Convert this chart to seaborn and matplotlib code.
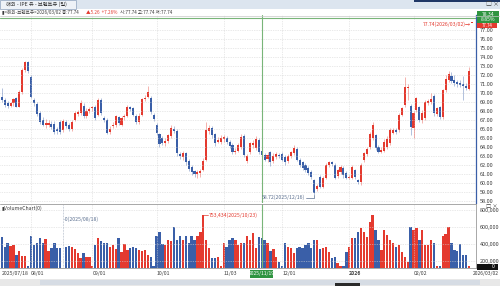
import matplotlib
matplotlib.use("Agg")
import matplotlib.pyplot as plt
from matplotlib.patches import Rectangle
import numpy as np
import pandas as pd
import seaborn as sns

#%% Data (daily Brent, 2025/07/18 - 2026/03/02)
dates = pd.bdate_range("2025-07-18", "2026-03-02")

opens = [69.6, 69.2, 68.9, 68.6, 68.9, 69.4, 68.5, 70.1, 72.6, 73.5,
         71.8, 69.2, 68.8, 67.8, 67.0, 66.4, 66.5, 66.6, 66.6, 66.0,
         66.8, 65.9, 66.8, 66.5, 66.0, 67.0, 67.7, 67.8, 68.6, 67.4,
         68.0, 68.3, 68.5, 67.6, 69.2, 67.2, 67.0, 65.7, 66.3, 66.4,
         67.3, 66.5, 67.3, 67.5, 68.4, 68.3, 67.5, 66.8, 67.6, 69.3,
         69.6, 69.5, 67.6, 66.5, 65.4, 65.0, 64.4, 64.7, 65.2, 66.0,
         65.8, 63.2, 62.9, 63.3, 62.5, 61.8, 61.3, 61.0, 61.1, 61.5,
         62.6, 65.8, 66.1, 65.4, 64.6, 64.6, 64.9, 65.0, 64.6, 64.2,
         63.4, 63.6, 64.0, 65.2, 62.4, 63.4, 64.2, 63.9, 64.8, 63.6,
         63.1, 62.7, 63.4, 62.4, 62.9, 63.1, 63.2, 62.9, 62.4, 63.0,
         63.3, 63.8, 62.6, 62.3, 62.0, 61.7, 61.2, 60.3, 59.3, 60.7,
         59.6, 60.6, 62.0, 62.3, 62.0, 60.8, 61.2, 61.7, 61.1, 60.6,
         60.6, 61.4, 60.3, 60.1, 62.6, 63.2, 64.0, 65.0, 65.3, 64.0,
         63.5, 63.6, 64.0, 64.4, 65.6, 65.9, 65.9, 67.6, 68.7, 70.6,
         68.6, 66.1, 68.1, 68.4, 67.0, 67.2, 68.9, 69.0, 69.7, 67.7,
         68.4, 67.3, 70.3, 71.4, 71.9, 71.4, 71.2, 71.1, 71.0, 70.8,
         70.5, 77.74]

highs = [70.6, 69.4, 69.1, 69.0, 69.5, 69.6, 70.3, 72.8, 73.6, 73.6,
         72.0, 69.5, 69.0, 68.0, 67.3, 67.1, 67.0, 66.9, 66.9, 66.2,
         67.0, 67.1, 67.0, 66.7, 67.0, 68.0, 68.1, 69.2, 68.9, 68.3,
         68.4, 68.6, 68.7, 69.4, 69.4, 67.4, 67.2, 66.3, 66.8, 67.6,
         67.5, 67.5, 67.7, 68.7, 68.6, 68.5, 67.7, 67.8, 69.5, 69.8,
         70.8, 69.7, 67.8, 66.7, 65.6, 65.2, 65.0, 65.5, 66.4, 66.3,
         66.0, 63.5, 63.6, 63.5, 62.7, 62.0, 61.5, 61.5, 61.6, 62.8,
         66.8, 66.4, 66.3, 65.6, 65.1, 65.3, 65.3, 65.2, 64.8, 64.4,
         63.9, 64.4, 65.4, 65.4, 63.2, 64.6, 64.8, 65.2, 65.0, 63.8,
         63.3, 63.4, 63.6, 63.3, 63.5, 63.3, 63.4, 63.1, 63.2, 63.6,
         64.2, 64.0, 62.8, 62.5, 62.2, 61.9, 61.4, 60.5, 59.9, 60.9,
         60.8, 62.2, 62.5, 62.5, 62.2, 61.6, 62.0, 61.9, 61.3, 60.9,
         62.0, 61.6, 60.5, 62.2, 63.5, 64.0, 65.7, 66.8, 65.5, 64.2,
         64.0, 64.9, 65.2, 66.1, 66.1, 66.1, 67.8, 68.5, 71.8, 71.0,
         68.8, 68.0, 69.6, 68.6, 68.1, 69.2, 69.3, 70.0, 69.9, 68.5,
         68.6, 70.5, 72.0, 72.4, 72.3, 72.0, 71.5, 71.4, 71.9, 71.1,
         72.9, 77.74]

lows = [69.0, 68.4, 68.3, 68.4, 68.6, 68.4, 68.4, 69.9, 72.3, 72.2,
        69.4, 68.6, 67.5, 66.6, 66.3, 66.1, 66.2, 66.0, 65.4, 65.5,
        65.5, 65.7, 66.1, 65.8, 65.8, 66.9, 67.5, 67.6, 67.2, 67.2,
        67.8, 68.0, 67.0, 67.4, 67.6, 66.8, 65.4, 65.5, 66.1, 66.2,
        66.4, 66.3, 67.0, 67.3, 68.0, 67.4, 66.6, 66.6, 67.4, 69.1,
        69.4, 67.7, 66.9, 65.3, 64.0, 64.2, 64.1, 64.5, 65.0, 65.6,
        63.0, 62.7, 62.6, 62.0, 61.3, 60.9, 60.7, 60.6, 60.7, 61.3,
        62.4, 65.5, 65.0, 64.1, 64.4, 64.3, 64.6, 64.3, 63.9, 63.2,
        63.2, 63.4, 63.8, 62.9, 62.2, 63.2, 63.9, 63.7, 63.2, 62.9,
        62.4, 62.3, 61.9, 62.2, 62.7, 62.8, 62.4, 62.0, 62.2, 62.8,
        63.1, 62.4, 61.8, 61.5, 61.2, 60.9, 60.5, 58.72, 59.1, 59.4,
        59.4, 60.4, 61.8, 61.9, 60.4, 60.6, 61.0, 60.6, 60.4, 60.5,
        60.4, 60.5, 59.9, 59.8, 62.3, 63.0, 63.8, 64.8, 63.7, 63.3,
        63.3, 63.4, 63.8, 64.2, 65.4, 65.4, 65.7, 67.4, 68.5, 69.2,
        65.3, 65.0, 67.9, 66.8, 66.7, 67.0, 68.7, 68.8, 67.5, 67.4,
        67.1, 67.1, 70.1, 71.2, 71.1, 70.8, 70.7, 70.7, 69.2, 70.3,
        70.3, 77.74]

closes = [69.2, 68.7, 68.6, 68.9, 69.3, 68.5, 70.1, 72.6, 73.4, 72.4,
          69.6, 68.9, 67.7, 66.8, 66.5, 66.7, 66.6, 66.2, 65.7, 65.8,
          65.7, 66.9, 66.3, 66.0, 66.8, 67.8, 67.9, 68.9, 67.4, 68.0,
          68.2, 68.4, 67.2, 69.2, 67.8, 67.0, 65.6, 66.0, 66.5, 67.4,
          66.7, 67.2, 67.5, 68.5, 68.2, 67.6, 66.8, 67.5, 69.3, 69.5,
          70.1, 67.9, 67.1, 65.6, 64.3, 64.4, 64.7, 65.3, 66.1, 65.8,
          63.3, 63.0, 63.3, 62.3, 61.6, 61.2, 61.0, 61.2, 61.3, 62.5,
          65.9, 66.1, 65.3, 64.4, 64.8, 65.0, 65.1, 64.6, 64.1, 63.4,
          63.6, 64.2, 65.1, 63.1, 63.0, 64.4, 64.5, 64.9, 63.4, 63.1,
          62.6, 63.1, 62.3, 63.0, 63.2, 63.0, 62.6, 62.3, 63.0, 63.4,
          63.9, 62.6, 62.0, 61.7, 61.4, 61.1, 60.7, 58.9, 59.7, 59.6,
          60.6, 62.0, 62.3, 62.1, 60.6, 61.4, 61.8, 60.9, 60.6, 60.7,
          61.8, 60.7, 60.1, 62.0, 63.3, 63.8, 65.5, 66.4, 63.9, 63.5,
          63.7, 64.6, 64.9, 65.9, 65.9, 65.7, 67.6, 68.3, 70.7, 70.7,
          66.2, 67.8, 69.4, 67.0, 67.8, 69.0, 69.1, 69.3, 67.8, 68.3,
          67.3, 70.3, 71.6, 72.1, 71.3, 71.1, 71.0, 70.9, 70.8, 70.6,
          72.48, 77.74]

# volume, thousands of contracts
volumes_k = [486, 368, 415, 376, 388, 270, 318, 259, 259, 140,
             494, 388, 415, 467, 408, 455, 318, 349, 408, 357,
             349, 0, 368, 376, 368, 337, 290, 231, 298, 251,
             251, 140, 388, 474, 435, 408, 415, 368, 388, 337,
             474, 310, 396, 329, 349, 368, 349, 329, 318, 329,
             270, 251, 140, 494, 545, 396, 388, 451, 435, 604,
             447, 494, 451, 490, 408, 490, 451, 490, 545, 741,
             451, 349, 231, 231, 251, 140, 408, 368, 451, 467,
             451, 388, 408, 408, 490, 451, 525, 349, 486, 474,
             451, 408, 318, 337, 251, 192, 140, 408, 368, 357,
             290, 349, 368, 357, 388, 408, 349, 451, 451, 341,
             349, 368, 310, 231, 251, 173, 140, 140, 310, 368,
             474, 474, 545, 584, 545, 486, 663, 741, 565, 451,
             329, 565, 510, 451, 408, 368, 388, 310, 251, 192,
             604, 565, 584, 447, 565, 388, 388, 451, 408, 140,
             140, 490, 514, 597, 408, 329, 318, 396, 270, 274,
             140, 0]

price_ticks = [58, 59, 60, 61, 62, 63, 64, 65, 66, 67,
               68, 69, 70, 71, 72, 73, 74, 75, 76, 77]
vol_ticks = [200000, 400000, 600000, 800000]
month_dates = ["2025-08-01", "2025-09-01", "2025-10-01", "2025-11-03",
               "2025-12-01", "2026-01-01", "2026-02-02"]
month_labels = ["08/01", "09/01", "10/01", "11/03", "12/01", "2026", "02/02"]

last_close, prev_change, prev_pct = 77.74, 5.26, 7.26
max_vol_k, max_vol_date = 753.434, "2025/10/23"
low_price, low_date = 58.72, "2025-12-16"
cross_date, cross_price, cross_pct = "2025-11-19", 78.34, 8.85

#%% Frame
df = pd.DataFrame({"date": dates, "open": opens, "high": highs,
                   "low": lows, "close": closes,
                   "volume": np.array(volumes_k) * 1000})
df["idx"] = np.arange(len(df))
df["dir"] = np.where(df["close"] >= df["open"], "up", "down")

RED = "#E43A2F"
BLUE = "#3A5FA8"
GRID = "#D4D4D4"
CROSS = "#79B579"
TXT = "#3C3C3C"
palette = {"up": RED, "down": BLUE}
cols = df["dir"].map(palette)

W, H = 500, 286
sns.set_style("white")
plt.rcParams["font.family"] = ["Noto Sans CJK KR", "DejaVu Sans"]
plt.rcParams["axes.unicode_minus"] = False

fig = plt.figure(figsize=(W / 100, H / 100), dpi=100)


def box(x0, y0, x1, y1):
    return [x0 / W, 1 - y1 / H, (x1 - x0) / W, (y1 - y0) / H]


def px_x(i):
    return 1.8 + 2.92 * i


# background layer (title bar, header, scrollbar)
bg = fig.add_axes([0, 0, 1, 1], zorder=0)
bg.set_xlim(0, W)
bg.set_ylim(H, 0)
bg.axis("off")
bg.add_patch(Rectangle((0, 0), W, 9, color="#DCE5EF", lw=0))
bg.add_patch(Rectangle((0, 0), 76, 9, facecolor="#EEF2F7", edgecolor="#9DAFC6", lw=0.6))
bg.add_patch(Rectangle((414, 0), 86, 2.2, color="#1F3766", lw=0))
bg.add_patch(Rectangle((0, 279), W, 7, color="#E8E8E8", lw=0))
bg.add_patch(Rectangle((40, 280), 440, 5, color="#D6DCE4", lw=0))
bg.add_patch(Rectangle((335, 283), 25, 3, color="#2B2B2B", lw=0))

x_right = (476 - 1.8) / 2.92
x_left = -1.8 / 2.92
month_idx = [int(dates.searchsorted(pd.Timestamp(d))) for d in month_dates]
cross_idx = dates.get_loc(pd.Timestamp(cross_date))
# the mouse cursor sits about one candle to the right of the 11/19 candle
cursor_x = cross_idx + 1.0

#%% Price panel
pax = fig.add_axes(box(0, 15, 476, 203), zorder=2)
pax.set_facecolor("white")
pax.hlines(price_ticks, x_left, x_right, color=GRID, lw=0.5, linestyles=(0, (1, 1.5)))
pax.vlines(month_idx, 50, 80, color=GRID, lw=0.5, linestyles=(0, (1, 1.5)))
pax.vlines(df["idx"], df["low"], df["high"], colors=cols, lw=0.6, alpha=0.45)
body_bottom = np.minimum(df["open"], df["close"])
body_height = np.maximum(np.abs(df["close"] - df["open"]), 0.12)
pax.bar(df["idx"], body_height, bottom=body_bottom, width=0.72, color=cols, lw=0)
pax.axvline(cursor_x, color=CROSS, lw=0.8)
pax.axhline(cross_price, color=CROSS, lw=0.8)
pax.set_xlim(x_left, x_right)
pax.set_ylim(77 - 173 / 9, 77 + 15 / 9)
pax.yaxis.tick_right()
pax.set_yticks(price_ticks)
pax.set_yticklabels([f"{v:.2f}" for v in price_ticks], fontsize=4.0, color=TXT)
pax.tick_params(axis="y", length=0, pad=2.5)
pax.set_xticks([])
for s in ["left", "top", "bottom"]:
    pax.spines[s].set_visible(False)
pax.spines["right"].set_color(BLUE)
pax.spines["right"].set_linewidth(0.9)

#%% Volume panel
vax = fig.add_axes(box(0, 204, 476, 268), zorder=2)
vax.set_facecolor("white")
vax.hlines(vol_ticks, x_left, x_right, color=GRID, lw=0.5, linestyles=(0, (1, 1.5)))
vax.vlines(month_idx, 0, 1e6, color=GRID, lw=0.5, linestyles=(0, (1, 1.5)))
sns.barplot(x=df["idx"], y=df["volume"], native_scale=True, color=RED,
            errorbar=None, width=0.8, saturation=1, linewidth=0, ax=vax)
for patch, c in zip(vax.patches, cols):
    patch.set_facecolor(c)
    patch.set_edgecolor("none")
vax.axvline(cursor_x, color=CROSS, lw=0.8)
vax.set_xlim(x_left, x_right)
v_per_px = 200000 / 17
vax.set_ylim((278 - 268) * v_per_px, (278 - 204) * v_per_px)
vax.yaxis.tick_right()
vax.set_yticks(vol_ticks)
vax.set_yticklabels([f"{v:,}" for v in vol_ticks], fontsize=4.0, color=TXT)
vax.tick_params(axis="y", length=0, pad=2.5)
vax.set_xticks([0] + month_idx)
vax.set_xticklabels(["2025/07/18"] + month_labels, fontsize=3.7, color=TXT, ha="left")
for lab in vax.get_xticklabels():
    if lab.get_text() == "2026":
        lab.set_fontweight("bold")
vax.tick_params(axis="x", length=0, pad=2)
vax.set_xlabel("")
vax.set_ylabel("")
for s in ["left", "top"]:
    vax.spines[s].set_visible(False)
vax.spines["bottom"].set_color("#9A9A9A")
vax.spines["bottom"].set_linewidth(0.6)
vax.spines["right"].set_color("#9A9A9A")
vax.spines["right"].set_linewidth(0.6)

#%% Foreground texts and labels (pixel coordinates)
fg = fig.add_axes([0, 0, 1, 1], zorder=5)
fg.set_xlim(0, W)
fg.set_ylim(H, 0)
fg.axis("off")
fg.patch.set_alpha(0)

fg.text(6, 4.6, "해외 - IPE 유 - 브렌트유 (일)", fontsize=3.8, color="#2A2A2A", va="center")
fg.text(486, 4.2, "□ ×", fontsize=4.2, color="#404040", va="center")
fg.plot([0, W], [15.5, 15.5], color="#C8C8C8", lw=0.5)
fg.plot([0, 476], [203.5, 203.5], color="#9A9A9A", lw=0.6)

fg.text(1.5, 12, "▮<해외-브렌트유>2026/03/02 종:77.74", fontsize=3.3, color=TXT, va="center")
fg.text(86, 12, f"▲{prev_change:.2f}  +{prev_pct:.2f}%", fontsize=3.3, color=RED, va="center")
fg.text(120, 12, "시:77.74 고:77.74 저:77.74", fontsize=3.3, color=TXT, va="center")

# crosshair price tag and last price tag on the right axis
fg.add_patch(Rectangle((477, 11), 22, 12, color="#2F9440", lw=0))
fg.text(488, 14.5, f"{cross_price:.2f}", fontsize=3.6, color="white", ha="center", va="center")
fg.text(488, 19.5, f"{cross_pct:.2f}%", fontsize=3.6, color="white", ha="center", va="center")
fg.add_patch(Rectangle((477, 23), 20, 4.5, color=RED, lw=0))
fg.text(487, 25.2, f"{last_close:.2f}", fontsize=3.2, color="white", ha="center", va="center")
fg.text(471, 24, f"{last_close:.2f}(2026/03/02)→", fontsize=3.7, color=RED, ha="right", va="center")

# low marker
low_i = dates.get_loc(pd.Timestamp(low_date))
lx = px_x(low_i)
fg.text(lx - 9, 197.5, f"{low_price:.2f}(2025/12/16)", fontsize=3.7, color="#5B6F8F", ha="right", va="center")
fg.plot([lx - 8.5, lx, lx], [197.5, 197.5, 194.5], color="#5B6F8F", lw=0.5)

# volume panel labels
fg.text(1.5, 208, "▮VolumeChart(0)", fontsize=3.7, color=TXT, va="center")
fg.text(486, 206, "□ ×", fontsize=3.8, color="#404040", va="center")
zero_i = int(np.argmin(volumes_k[:40]))
zx = px_x(zero_i)
fg.plot([zx, zx], [205, 268], color="#9AA6B8", lw=0.5, ls=(0, (1, 1.2)))
fg.text(zx + 1, 219, "-0(2025/08/18)", fontsize=3.7, color="#5B6F8F", va="center")
peak_i = int(np.argmax(volumes_k[:100]))
pxx = px_x(peak_i)
fg.plot([pxx, pxx + 5], [215, 215], color=RED, lw=0.5)
fg.text(pxx + 5.5, 215, f"{max_vol_k * 1000:,.0f}({max_vol_date})", fontsize=3.7, color=RED, va="center")
fg.add_patch(Rectangle((477, 264), 21, 6, color="#111111", lw=0))
fg.text(495, 267, "0", fontsize=3.8, color="white", ha="right", va="center")

# crosshair date tag and last date
cx = px_x(cursor_x)
fg.add_patch(Rectangle((cx - 11.5, 270), 23, 8, color="#2F9440", lw=0))
fg.text(cx, 274, "2025/11/19", fontsize=3.6, color="white", ha="center", va="center")
fg.text(499, 274, "2026/03/02", fontsize=3.6, color=TXT, ha="right", va="center")

fig.savefig("out.png", dpi=100)
